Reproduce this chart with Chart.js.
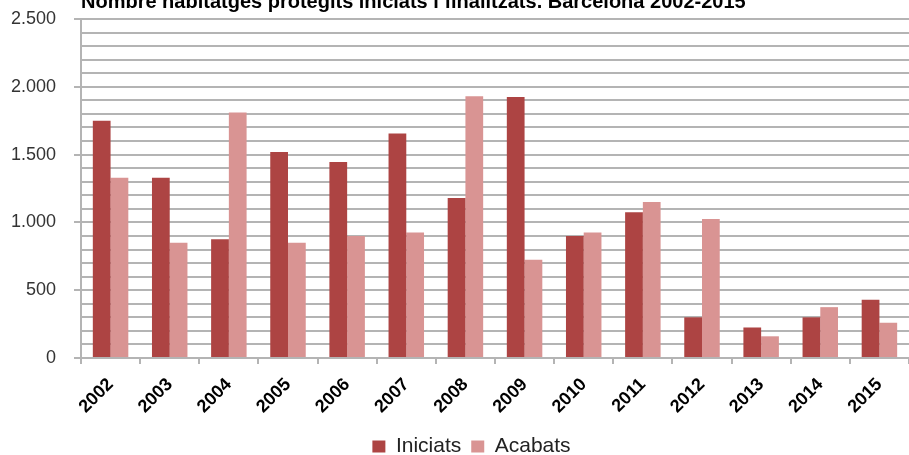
<!DOCTYPE html>
<html>
<head>
<meta charset="utf-8">
<script src="https://cdn.jsdelivr.net/npm/chart.js@4.4.1/dist/chart.umd.min.js"></script>
<style>
  html, body { margin: 0; padding: 0; background: #fff; overflow: hidden; }
  #wrap { position: absolute; left: 0; top: -12px; }
</style>
</head>
<body>
<div id="wrap"><canvas id="chart-one" width="909" height="479"></canvas></div>
<script>
// data
var years = ["2002", "2003", "2004", "2005", "2006", "2007", "2008", "2009", "2010", "2011", "2012", "2013", "2014", "2015"];
var iniciats = [1750, 1330, 875, 1520, 1445, 1655, 1180, 1925, 900, 1075, 300, 225, 300, 430];
var acabats = [1330, 850, 1810, 850, 900, 925, 1930, 725, 925, 1150, 1025, 160, 375, 260];
var yMax = 2500;
var yLabelStep = 500;

var gridGray = "#b4b4b4";

function punts(v) {
  return String(v).replace(/\B(?=(\d{3})+(?!\d))/g, ".");
}

// legend sits a bit right of the canvas centre in the original
var legendShift = {
  id: "legendShift",
  afterLayout: function (chart) {
    chart.legend.left = 34;
  }
};

new Chart("chart-one", {
  type: "bar",
  data: {
    labels: years,
    datasets: [{
      label: "Iniciats",
      data: iniciats,
      backgroundColor: "#ad4443"
    }, {
      label: "Acabats",
      data: acabats,
      backgroundColor: "#d99493"
    }]
  },
  plugins: [legendShift],
  options: {
    responsive: false,
    animation: false,
    devicePixelRatio: 1,
    layout: { padding: 0 },
    datasets: { bar: { categoryPercentage: 0.6, barPercentage: 1.0 } },
    plugins: {
      title: {
        display: true,
        fullSize: false,
        align: "start",
        text: "Nombre habitatges protegits iniciats i finalitzats. Barcelona 2002-2015",
        color: "#000",
        font: { family: "'Liberation Sans', Arial, sans-serif", size: 20, weight: "bold" },
        padding: { top: 2, bottom: 5 }
      },
      legend: {
        position: "bottom",
        labels: {
          color: "#222",
          boxWidth: 13,
          boxHeight: 12,
          padding: 10,
          font: { family: "'Liberation Sans', Arial, sans-serif", size: 21 }
        }
      },
      tooltip: { enabled: false }
    },
    scales: {
      x: {
        grid: {
          display: true,
          drawOnChartArea: false,
          offset: true,
          tickLength: 6,
          color: gridGray,
          lineWidth: 2
        },
        border: { color: gridGray, width: 2 },
        ticks: {
          color: "#000",
          minRotation: 45,
          maxRotation: 45,
          padding: 10,
          font: { family: "'Liberation Sans', Arial, sans-serif", size: 18, weight: "bold" }
        },
        afterFit: function (s) { s.height = 68; }
      },
      y: {
        min: 0,
        max: yMax,
        grid: {
          color: gridGray,
          lineWidth: 2,
          tickLength: 7,
          tickColor: function (c) {
            return c.tick && c.tick.value % yLabelStep === 0 ? gridGray : "rgba(0,0,0,0)";
          }
        },
        border: { color: gridGray, width: 2 },
        ticks: {
          stepSize: 100,
          autoSkip: false,
          padding: 18,
          color: "#333",
          font: { family: "'Liberation Sans', Arial, sans-serif", size: 18 },
          callback: function (v) {
            return v % yLabelStep === 0 ? punts(v) : "";
          }
        },
        afterFit: function (s) { s.width = 81; }
      }
    }
  }
});
</script>
</body>
</html>
